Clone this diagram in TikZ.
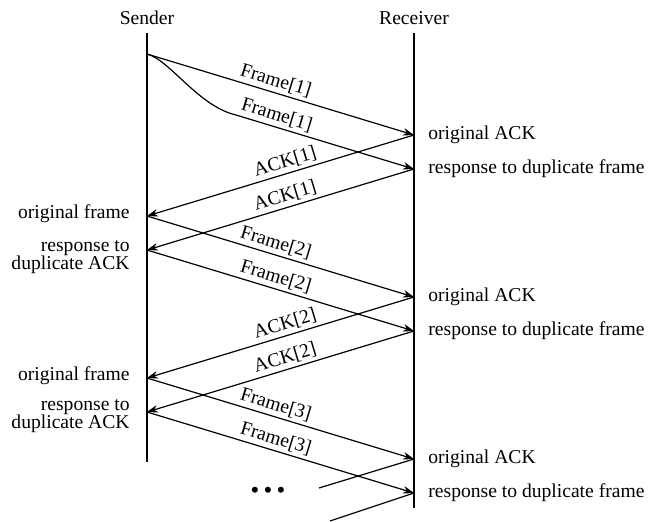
\documentclass[tikz,border=0pt]{standalone}
\usepackage{fontspec}
\setmainfont{Liberation Serif}
\usetikzlibrary{arrows.meta}

\begin{document}
\begin{tikzpicture}[x=0.5pt,y=-0.5pt,font=\fontsize{9.8}{9.3}\selectfont]
       \tikzstyle{life} = [line width=0.6pt];
       \tikzstyle{msg} = [line width=0.6pt, -{Stealth[length=5.5pt,width=3.8pt]}];
       \tikzstyle{lbl} = [above, sloped, pos=0.47, inner sep=1.5pt];
       \tikzstyle{left note} = [anchor=east, align=right, inner sep=0pt];
       \tikzstyle{right note} = [anchor=west, inner sep=0pt];

       \useasboundingbox (0,0) rectangle (648,521);

       \node(sender) at (147,18) {Sender};
       \node(receiver) at (414,18) {Receiver};

       \coordinate (stop) at (147,33);
       \coordinate (send) at (147,462);
       \coordinate (rtop) at (414,33);
       \coordinate (rend) at (414,508);

       % sender side
       \coordinate (s0) at (147,54);
       \coordinate (s1) at (147,216);
       \coordinate (s2) at (147,250);
       \coordinate (s3) at (147,378);
       \coordinate (s4) at (147,412);
       % receiver side
       \coordinate (r1) at (414,135);
       \coordinate (r2) at (414,169);
       \coordinate (r3) at (414,297);
       \coordinate (r4) at (414,331);
       \coordinate (r5) at (414,459);
       \coordinate (r6) at (414,493);

       \coordinate (bend) at (236,115);
       \coordinate (tail1) at (319,488);
       \coordinate (tail2) at (330,521);

       \draw[life] (stop) -- (send);
       \draw[life] (rtop) -- (rend);

       \draw[msg] (s0) -- node[lbl]{Frame[1]} (r1);
       \draw[msg] (s0) .. controls (170,60) and (198,106) .. (bend)
                 -- node[lbl,pos=0.21]{Frame[1]} (r2);
       \draw[msg] (r1) -- node[lbl]{ACK[1]} (s1);
       \draw[msg] (r2) -- node[lbl]{ACK[1]} (s2);
       \draw[msg] (s1) -- node[lbl]{Frame[2]} (r3);
       \draw[msg] (s2) -- node[lbl]{Frame[2]} (r4);
       \draw[msg] (r3) -- node[lbl]{ACK[2]} (s3);
       \draw[msg] (r4) -- node[lbl]{ACK[2]} (s4);
       \draw[msg] (s3) -- node[lbl]{Frame[3]} (r5);
       \draw[msg] (s4) -- node[lbl]{Frame[3]} (r6);
       \draw[life] (r5) -- (tail1);
       \draw[life] (r6) -- (tail2);

       \node[right note](orig1) at (428,135) {original ACK};
       \node[right note](dup1) at (428,169) {response to duplicate frame};
       \node[right note](orig2) at (428,297) {original ACK};
       \node[right note](dup2) at (428,331) {response to duplicate frame};
       \node[right note](orig3) at (428,459) {original ACK};
       \node[right note](dup3) at (428,493) {response to duplicate frame};

       \node[left note](frm1) at (130,214) {original frame};
       \node[left note](rsp1) at (130,257) {response to\\duplicate ACK};
       \node[left note](frm2) at (130,376) {original frame};
       \node[left note](rsp2) at (130,416) {response to\\duplicate ACK};

       \node[font=\fontsize{12.5}{12.5}\selectfont](dots) at (268,493) {\textbullet\,\textbullet\,\textbullet};
     \end{tikzpicture}
\end{document}
